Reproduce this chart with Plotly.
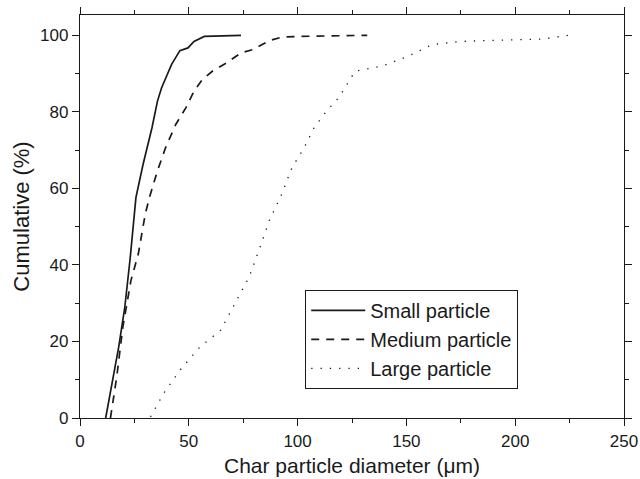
import plotly.graph_objects as go

small_x = [11.8, 15.0, 17.8, 20.6, 23.1, 25.7, 29.0, 33.1, 35.6, 37.5, 42.1, 45.9, 49.6, 52.4, 57.1, 74.0]
small_y = [0.0, 10.0, 18.6, 29.0, 42.0, 57.6, 66.3, 75.9, 82.8, 86.3, 92.4, 96.0, 96.7, 98.4, 99.7, 100.0]

medium_x = [14.0, 16.9, 19.7, 23.4, 26.8, 30.0, 31.9, 35.6, 39.3, 44.0, 48.7, 52.4, 56.2, 60.8, 67.4, 74.0, 79.6, 87.0, 92.7, 100.2, 132.0]
medium_y = [0.0, 10.8, 23.8, 35.9, 42.9, 53.3, 57.6, 64.6, 70.6, 76.7, 81.1, 85.4, 88.4, 90.6, 92.8, 95.4, 96.3, 98.6, 99.5, 99.7, 100.0]

large_x = [32.4, 38.4, 45.9, 55.2, 64.6, 72.1, 77.7, 83.3, 87.0, 92.7, 97.4, 103.0, 107.6, 113.3, 118.9, 123.6, 126.4, 138.5, 150.7, 161.9, 175.0, 197.5, 212.5, 224.6]
large_y = [0.3, 6.4, 12.5, 18.6, 22.9, 30.7, 36.8, 45.5, 51.6, 58.5, 65.4, 70.6, 75.9, 80.2, 83.7, 88.0, 90.6, 91.9, 94.5, 97.6, 98.4, 98.8, 99.0, 100.0]

x_ticks = [0, 50, 100, 150, 200, 250]
y_ticks = [0, 20, 40, 60, 80, 100]

FONT = "Liberation Sans, Arial, sans-serif"
ink = "#1a1a1a"

fig = go.Figure()
fig.add_trace(go.Scatter(x=small_x, y=small_y, mode="lines", name="Small particle",
                         line=dict(color=ink, width=1.7, dash="solid")))
fig.add_trace(go.Scatter(x=medium_x, y=medium_y, mode="lines", name="Medium particle",
                         line=dict(color=ink, width=1.7, dash="8px,7px")))
fig.add_trace(go.Scatter(x=large_x, y=large_y, mode="lines", name="Large particle",
                         line=dict(color=ink, width=1.3, dash="1.3px,8px")))

axis_common = dict(
    showgrid=False, zeroline=False, showline=True, linecolor=ink, linewidth=1.3,
    mirror="ticks", ticks="outside", ticklen=7, tickwidth=1.3, tickcolor=ink,
    tickfont=dict(family=FONT, size=17, color=ink), automargin=False,
)

fig.update_layout(
    width=640, height=479,
    margin=dict(l=80, r=16, t=15, b=61),
    paper_bgcolor="white", plot_bgcolor="white",
    font=dict(family=FONT, color=ink),
    xaxis=dict(range=[0, 250], tickvals=x_ticks,
               minor=dict(dtick=25, ticks="outside", ticklen=4, tickwidth=1.3, tickcolor=ink),
               title=dict(text="Char particle diameter (\u03bcm)", font=dict(family=FONT, size=21, color=ink), standoff=8),
               **axis_common),
    yaxis=dict(range=[0, 105.3], tickvals=y_ticks,
               minor=dict(dtick=10, ticks="outside", ticklen=4, tickwidth=1.3, tickcolor=ink),
               title=dict(text="Cumulative (%)", font=dict(family=FONT, size=22, color=ink), standoff=4),
               **axis_common),
    legend=dict(x=0.414, y=0.195, xanchor="left", yanchor="middle",
                bordercolor=ink, borderwidth=1, bgcolor="white",
                font=dict(family=FONT, size=20, color=ink),
                itemwidth=54, tracegroupgap=0),
    showlegend=True,
)

fig.write_html("out.html", config={"displayModeBar": False},
               post_script="document.body.style.margin='0';")
